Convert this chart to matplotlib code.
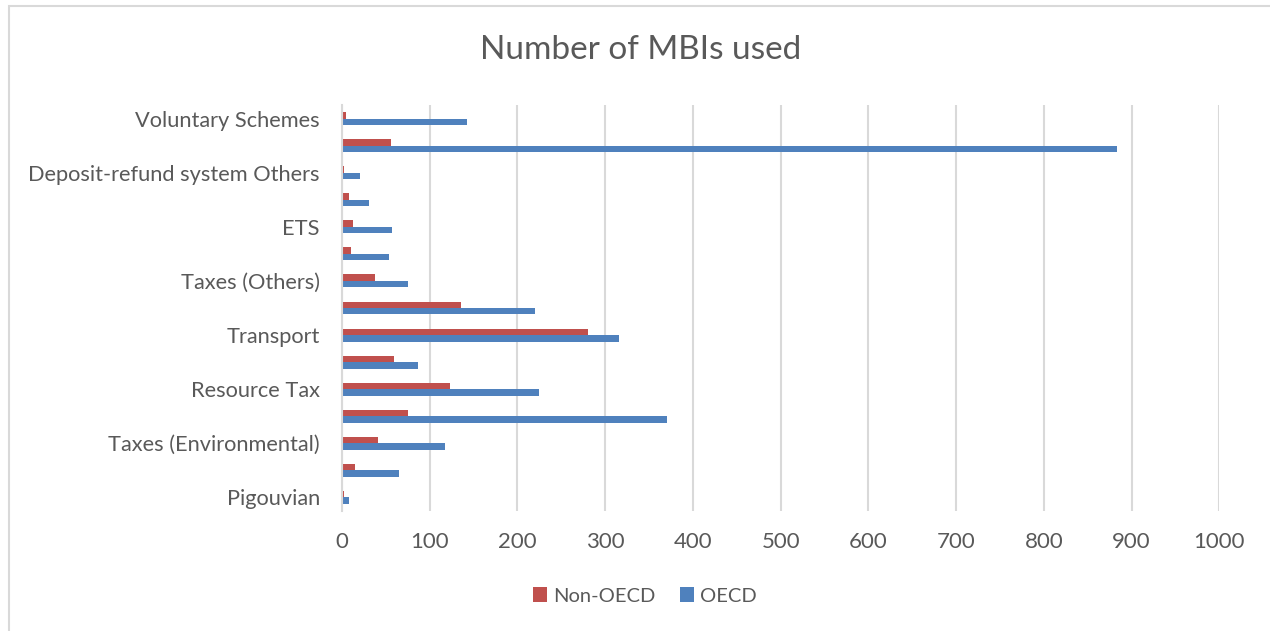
import numpy as np
import matplotlib
matplotlib.use("Agg")
import matplotlib.pyplot as plt
from matplotlib.patches import Rectangle

# categories bottom to top; every other label is hidden in the original chart
tick_labels = [
    "Pigouvian", "", "Taxes (Environmental)", "", "Resource Tax", "",
    "Transport", "", "Taxes (Others)", "", "ETS", "",
    "Deposit-refund system Others", "", "Voluntary Schemes",
]
non_oecd = [2, 15, 41, 75, 123, 59, 280, 136, 38, 10, 12, 8, 2, 56, 5]
oecd = [8, 65, 117, 370, 224, 87, 316, 220, 75, 54, 57, 31, 20, 883, 143]
x_ticks = list(range(0, 1001, 100))

plt.rcParams["font.family"] = ["Lato", "DejaVu Sans"]
txt = "#595959"

fig = plt.figure(figsize=(12.7, 6.31), dpi=100)
ax = fig.add_axes([342 / 1270, 1 - 511 / 631, (1219.3 - 342) / 1270, (511 - 105) / 631])

y = np.arange(len(tick_labels))
h = 0.24
ax.barh(y + h / 2, non_oecd, height=h, color="#C0504D", label="Non-OECD", zorder=3)
ax.barh(y - h / 2, oecd, height=h, color="#4F81BD", label="OECD", zorder=3)

ax.set_xlim(0, 1000)
ax.set_ylim(-0.5, len(tick_labels) - 0.5)
ax.set_xticks(x_ticks)
ax.set_xticklabels([str(v) for v in x_ticks], fontsize=16, color=txt)
ax.set_yticks(y)
ax.set_yticklabels(tick_labels, fontsize=15.7, color=txt)
ax.tick_params(axis="both", length=0)
ax.tick_params(axis="x", pad=15)
ax.tick_params(axis="y", pad=16)
ax.grid(axis="x", color="#D9D9D9", linewidth=1.5, zorder=0)
for side in ["top", "right", "bottom"]:
    ax.spines[side].set_visible(False)
ax.spines["left"].set_color("#D9D9D9")
ax.spines["left"].set_linewidth(1.5)
ax.spines["left"].set_zorder(4)

fig.text(641 / 1270, 1 - 50 / 631, "Number of MBIs used", ha="center", va="center",
         fontsize=24, color=txt)

handles, labels = ax.get_legend_handles_labels()
fig.legend(handles, labels, loc="center", bbox_to_anchor=(645 / 1270, 1 - 596 / 631),
           ncol=2, frameon=False, fontsize=14.5, labelcolor=txt,
           handlelength=0.7, handleheight=0.7, handletextpad=0.3, columnspacing=1.2)

fig.patches.append(Rectangle((9 / 1270, -0.05), 1.2, 1 - 6 / 631 + 0.05,
                             transform=fig.transFigure, fill=False,
                             edgecolor="#D9D9D9", linewidth=1.5))

fig.savefig("out.png", dpi=100)
